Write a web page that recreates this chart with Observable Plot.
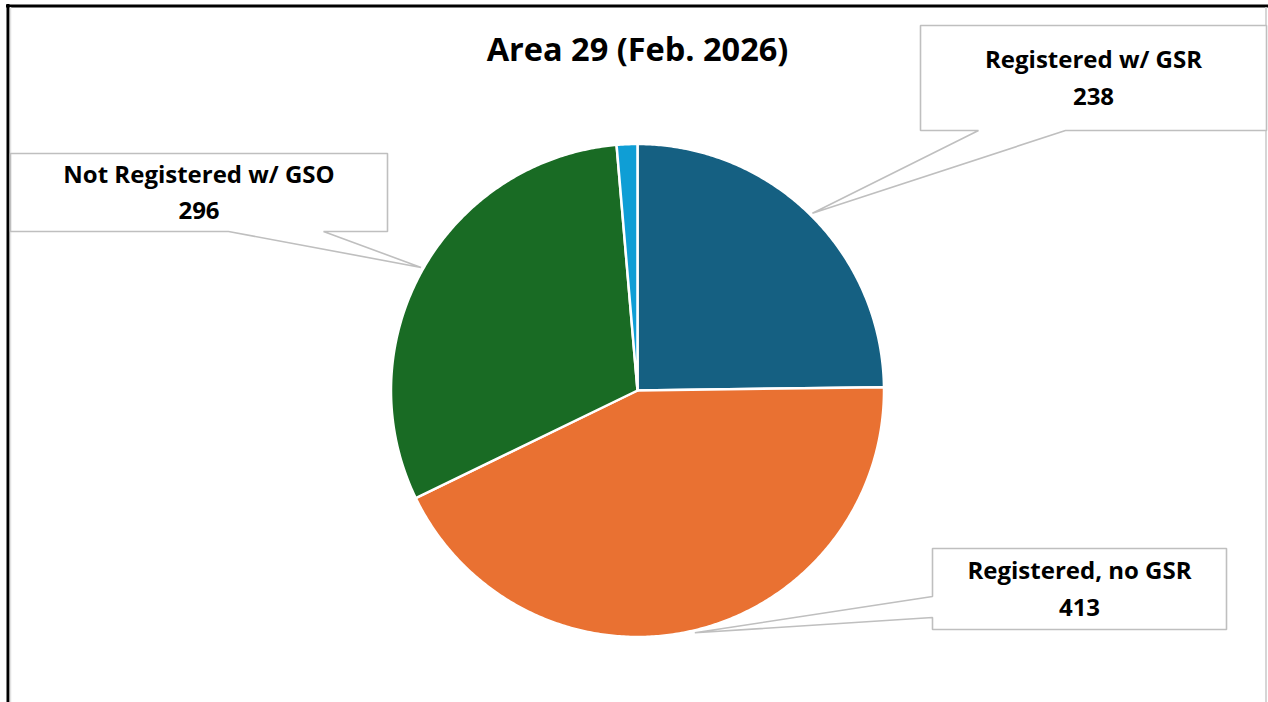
<!DOCTYPE html>
<html>
<head>
<meta charset="utf-8">
<script src="https://cdn.jsdelivr.net/npm/d3@7"></script>
<script src="https://cdn.jsdelivr.net/npm/@observablehq/plot@0.6"></script>
<style>
  html, body { margin: 0; padding: 0; background: #fff; }
  #chart svg { display: block; }
</style>
</head>
<body>
<div id="chart"></div>
<script>
// ---- Data ----
const title = "Area 29 (Feb. 2026)";
const categories = ["Registered w/ GSR", "Registered, no GSR", "Not Registered w/ GSO", "Other"];
const values = [238, 413, 296, 13];
const colors = ["#156082", "#E97132", "#196B24", "#0F9ED5"];
const labelled = [true, true, true, false];

// ---- Layout (pixels) ----
const W = 1268, H = 702;
const cx = 637, cy = 390, R = 246.5;
const FONT = "'Open Sans', 'Liberation Sans', sans-serif";

// callout boxes: [x1, y1, x2, y2], tail base points, side of the tail
const calloutLayout = [
  {box: [920, 25, 1266, 130], side: "bottom", base: [978, 1065]},
  {box: [932, 548, 1226, 629], side: "left", base: [596, 617]},
  {box: [10, 153, 387, 231], side: "bottom", base: [228, 323]}
];

// ---- Pie geometry from the values ----
const arcs = d3.pie().sort(null).value(d => d)(values);
const pt = (a, r) => [cx + r * Math.sin(a), cy - r * Math.cos(a)];

const slicePts = [];
arcs.forEach((arc, i) => {
  const n = Math.max(4, Math.ceil((arc.endAngle - arc.startAngle) * 180 / Math.PI) * 2);
  slicePts.push({k: i, x: cx, y: cy, c: colors[i]});
  for (let j = 0; j <= n; j++) {
    const a = arc.startAngle + (arc.endAngle - arc.startAngle) * j / n;
    const [x, y] = pt(a, R);
    slicePts.push({k: i, x, y, c: colors[i]});
  }
});

// callout polygons with the tail pointing at the middle of each slice
const calloutPts = [];
const calloutText = [];
let ci = 0;
arcs.forEach((arc, i) => {
  if (!labelled[i]) return;
  const L = calloutLayout[ci++];
  const mid = (arc.startAngle + arc.endAngle) / 2;
  const tip = pt(mid, R + 2.5);
  const [x1, y1, x2, y2] = L.box;
  let poly;
  if (L.side === "bottom") {
    poly = [[x1, y1], [x2, y1], [x2, y2], [L.base[1], y2], tip, [L.base[0], y2], [x1, y2]];
  } else {
    poly = [[x1, y1], [x2, y1], [x2, y2], [x1, y2], [x1, L.base[1]], tip, [x1, L.base[0]]];
  }
  poly.forEach(([x, y]) => calloutPts.push({k: i, x, y}));
  calloutText.push({x: (x1 + x2) / 2, y: (y1 + y2) / 2 - 3, text: categories[i] + "\n" + values[i]});
});

const chart = Plot.plot({
  width: W,
  height: H,
  margin: 0,
  x: {domain: [0, W], range: [0, W], axis: null},
  y: {domain: [0, H], range: [0, H], axis: null},
  color: {type: "identity"},
  style: {fontFamily: FONT, background: "#fff"},
  marks: [
    // frame of the chart picture
    Plot.ruleY([5.5], {x1: 6, x2: W, stroke: "#000", strokeWidth: 3}),
    Plot.ruleX([7.5], {y1: 4, y2: H, stroke: "#000", strokeWidth: 3}),
    Plot.ruleX([10], {y1: 7, y2: H, stroke: "#e2e2e2", strokeWidth: 1.5}),
    Plot.ruleX([1265.5], {y1: 7, y2: H, stroke: "#c8c8c8", strokeWidth: 1.5}),
    // pie slices
    Plot.line(slicePts, {x: "x", y: "y", z: "k", fill: "c", stroke: "#fff", strokeWidth: 2.5, curve: "linear-closed", strokeLinejoin: "round"}),
    // callouts
    Plot.line(calloutPts, {x: "x", y: "y", z: "k", fill: "#fff", stroke: "#bfbfbf", strokeWidth: 1.6, curve: "linear-closed", strokeLinejoin: "miter"}),
    Plot.text(calloutText, {x: "x", y: "y", text: "text", fontSize: 24, fontWeight: 700, fill: "#000", lineHeight: 1.52, lineAnchor: "middle", textAnchor: "middle"}),
    // title
    Plot.text([title], {x: [cx], y: [50], text: d => d, fontSize: 32.5, fontWeight: 700, fill: "#000", lineAnchor: "middle", textAnchor: "middle"})
  ]
});
document.getElementById("chart").append(chart);
</script>
</body>
</html>
